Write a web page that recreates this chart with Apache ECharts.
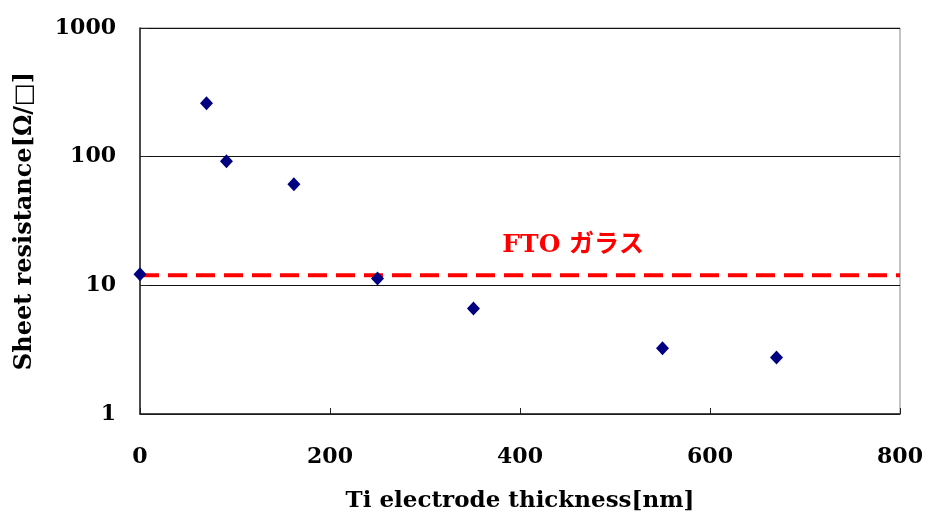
<!DOCTYPE html>
<html>
<head>
<meta charset="utf-8">
<style>
  html, body { margin: 0; padding: 0; background: #fff; }
  #chart { width: 925px; height: 515px; }
</style>
<script src="https://cdn.jsdelivr.net/npm/echarts@6/dist/echarts.min.js"></script>
</head>
<body>
<div id="chart"></div>
<script>
// Ti electrode thickness (nm) and measured sheet resistance (Ω/□)
const thickness = [0, 70, 91, 162, 250, 351, 550, 670];
const resistance = [12.2, 260, 92, 61, 11.3, 6.6, 3.25, 2.75];
// Reference level of bare FTO glass
const ftoLevel = 12;
const ftoLabel = 'FTO ガラス';
const ftoLabelPos = [456, 20.5];
const xTicks = [0, 200, 400, 600, 800];
const yTicks = [1, 10, 100, 1000];

const serif = '"DejaVu Serif", "Liberation Serif", serif';

const chart = echarts.init(document.getElementById('chart'), null, { renderer: 'canvas' });
chart.setOption({
  animation: false,
  backgroundColor: '#ffffff',
  grid: {
    left: 140, right: 25, top: 28, bottom: 101,
    containLabel: false,
    outerBoundsMode: 'none',
    show: true, borderColor: '#888', borderWidth: 1
  },
  xAxis: {
    type: 'value',
    min: xTicks[0],
    max: xTicks[xTicks.length - 1],
    interval: 200,
    name: 'Ti electrode thickness[nm]',
    nameLocation: 'middle',
    nameGap: 76,
    nameTextStyle: { fontFamily: serif, fontWeight: 'bold', fontSize: 23, color: '#000' },
    axisLine: { show: true, lineStyle: { color: '#222', width: 1.5 } },
    axisTick: { show: true, inside: true, length: 6, lineStyle: { color: '#222' } },
    axisLabel: { margin: 32, fontFamily: serif, fontWeight: 'bold', fontSize: 22, color: '#000' },
    splitLine: { show: false }
  },
  yAxis: {
    type: 'log',
    logBase: 10,
    min: yTicks[0],
    max: yTicks[yTicks.length - 1],
    name: 'Sheet resistance[Ω/□]',
    nameLocation: 'middle',
    nameGap: 103,
    nameRotate: 90,
    nameTextStyle: { fontFamily: serif, fontWeight: 'bold', fontSize: 24, color: '#000' },
    axisLine: { show: true, lineStyle: { color: '#222', width: 1.5 } },
    axisTick: { show: true, inside: true, length: 8, lineStyle: { color: '#222' } },
    axisLabel: {
      margin: 24, fontFamily: serif, fontWeight: 'bold', fontSize: 22, color: '#000',
      formatter: (v) => String(v)
    },
    splitLine: { show: true, lineStyle: { color: '#111', width: 1 } }
  },
  series: [
    {
      type: 'line',
      data: [[xTicks[0], ftoLevel], [xTicks[xTicks.length - 1], ftoLevel]],
      symbol: 'none',
      lineStyle: { color: '#ff0000', width: 4, type: [19, 9], opacity: 1 },
      silent: true,
      z: 2
    },
    {
      type: 'scatter',
      data: thickness.map((t, i) => [t, resistance[i]]),
      symbol: 'diamond',
      symbolSize: [13, 14],
      itemStyle: { color: '#000080', opacity: 1 },
      z: 3
    },
    {
      type: 'scatter',
      data: [ftoLabelPos],
      symbolSize: 0,
      silent: true,
      itemStyle: { opacity: 1 },
      label: {
        show: true,
        position: 'inside',
        formatter: ftoLabel,
        fontFamily: '"DejaVu Serif", "Noto Sans CJK JP", serif',
        fontWeight: 'bold',
        fontSize: 25,
        color: '#ff0000'
      }
    }
  ]
});
</script>
</body>
</html>
